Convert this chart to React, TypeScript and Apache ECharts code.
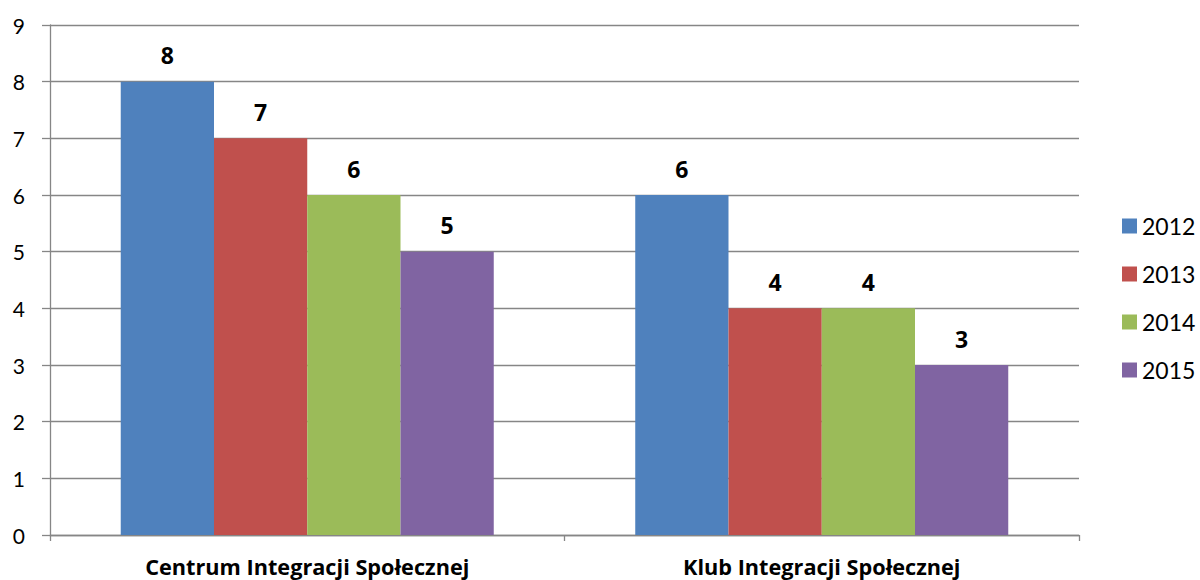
import React, { useEffect, useRef } from "react";
import * as echarts from "echarts";

const categories = ["Centrum Integracji Społecznej", "Klub Integracji Społecznej"];
const years = ["2012", "2013", "2014", "2015"];
const values2012 = [8, 6];
const values2013 = [7, 4];
const values2014 = [6, 4];
const values2015 = [5, 3];
const colors = ["#4F81BD", "#C0504D", "#9BBB59", "#8064A2"];

const FONT = "Lato";

export default function App() {
  const ref = useRef<HTMLDivElement>(null);
  useEffect(() => {
    if (!ref.current) return;
    const chart = echarts.init(ref.current, undefined, { renderer: "svg" });
    const seriesValues = [values2012, values2013, values2014, values2015];
    chart.setOption({
      animation: false,
      backgroundColor: "#ffffff",
      textStyle: { fontFamily: FONT },
      grid: { left: 50, right: 121, top: 25, bottom: 45, containLabel: false },
      legend: {
        orient: "vertical",
        left: 1122,
        top: 214,
        padding: 0,
        itemWidth: 15,
        itemHeight: 15,
        itemGap: 24,
        icon: "rect",
        data: years,
        textStyle: { fontFamily: FONT, fontSize: 23, color: "#000", lineHeight: 24 },
      },
      xAxis: {
        type: "category",
        data: categories,
        axisLine: { lineStyle: { color: "#868686", width: 1.3 } },
        axisTick: { show: true, length: 6, alignWithLabel: false, lineStyle: { color: "#868686", width: 1.3 } },
        axisLabel: { fontFamily: "Open Sans", fontSize: 21.7, fontWeight: "bold", color: "#000", margin: 20 },
      },
      yAxis: {
        type: "value",
        min: 0,
        max: 9,
        interval: 1,
        axisLine: { show: true, lineStyle: { color: "#868686", width: 1.3 } },
        axisTick: { show: true, length: 8, lineStyle: { color: "#868686", width: 1.3 } },
        splitLine: { lineStyle: { color: "#868686", width: 1.3 } },
        axisLabel: { fontFamily: FONT, fontSize: 21, color: "#000", margin: 25, align: "right" },
      },
      series: years.map((y, i) => ({
        name: y,
        type: "bar",
        data: seriesValues[i],
        itemStyle: { color: colors[i] },
        barGap: "0%",
        barCategoryGap: "27.5%",
        label: {
          show: true,
          position: "top",
          distance: 15,
          fontFamily: "Open Sans",
          fontSize: 23,
          fontWeight: "bold",
          color: "#000",
        },
      })),
    });
    return () => chart.dispose();
  }, []);
  return <div ref={ref} style={{ position: "fixed", left: 0, top: 0, width: 1200, height: 580 }} />;
}
